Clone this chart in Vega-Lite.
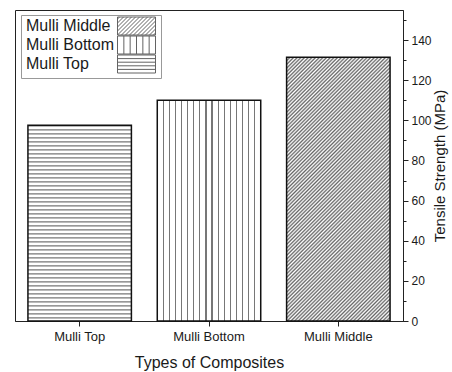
{
  "$schema": "https://vega.github.io/schema/vega-lite/v6.json",
  "autosize": "none",
  "padding": {"left": 15, "top": 10, "right": 49, "bottom": 51},
  "width": 388,
  "height": 311,
  "config": {
    "font": "Liberation Sans",
    "view": {"stroke": "#222", "strokeWidth": 1}
  },
  "data": {"values": [
    {"type": "Mulli Top", "strength": 97.5},
    {"type": "Mulli Bottom", "strength": 110},
    {"type": "Mulli Middle", "strength": 131.5}
  ]},
  "encoding": {
    "x": {"field": "type", "type": "nominal", "sort": ["Mulli Top", "Mulli Bottom", "Mulli Middle"],
      "scale": {"paddingInner": 0.2, "paddingOuter": 0.1},
      "axis": {"title": "Types of Composites", "titleFontSize": 16, "titleFontWeight": "normal", "titleColor": "#1a1a1a", "titlePadding": 11,
        "labelFontSize": 13, "labelColor": "#1a1a1a", "labelAngle": 0, "labelPadding": 4, "tickSize": 5, "tickColor": "#222", "domainColor": "#222", "bandPosition": 0.5, "grid": false}},
    "y": {"field": "strength", "type": "quantitative",
      "scale": {"domain": [0, 155], "nice": false, "zero": true},
      "axis": {"orient": "right", "title": "Tensile Strength (MPa)", "titleAngle": 270, "titleBaseline": "top", "titleFontSize": 15, "titleFontWeight": "normal", "titleColor": "#1a1a1a", "titlePadding": 1,
        "values": [0, 10, 20, 30, 40, 50, 60, 70, 80, 90, 100, 110, 120, 130, 140, 150],
        "labelExpr": "datum.value % 20 === 0 && datum.value <= 140 ? datum.label : ''",
        "tickSize": {"condition": {"test": "datum.value % 20 === 0", "value": 5}, "value": 3},
        "labelFontSize": 12, "labelColor": "#1a1a1a", "labelPadding": 3, "tickColor": "#222", "domainColor": "#222", "grid": false}}
  },
  "layer": [
    {
      "transform": [{"filter": "datum.type === 'Mulli Top'"}],
      "mark": {"type": "rule", "strokeWidth": 103.4, "color": "#777", "strokeDash": [1.2, 2.8]},
      "encoding": {"y2": {"datum": 0}}
    },
    {
      "transform": [{"filter": "datum.type === 'Mulli Bottom'"}],
      "mark": {"type": "bar", "fill": {"gradient": "linear", "x1": 0, "y1": 0, "x2": 1, "y2": 0, "stops": [
        {"offset": 0, "color": "#fff"},
        {"offset": 0.0528, "color": "#fff"}, {"offset": 0.0528, "color": "#777"}, {"offset": 0.0648, "color": "#777"}, {"offset": 0.0648, "color": "#fff"},
        {"offset": 0.1116, "color": "#fff"}, {"offset": 0.1116, "color": "#777"}, {"offset": 0.1236, "color": "#777"}, {"offset": 0.1236, "color": "#fff"},
        {"offset": 0.1705, "color": "#fff"}, {"offset": 0.1705, "color": "#777"}, {"offset": 0.1825, "color": "#777"}, {"offset": 0.1825, "color": "#fff"},
        {"offset": 0.2293, "color": "#fff"}, {"offset": 0.2293, "color": "#777"}, {"offset": 0.2413, "color": "#777"}, {"offset": 0.2413, "color": "#fff"},
        {"offset": 0.2881, "color": "#fff"}, {"offset": 0.2881, "color": "#777"}, {"offset": 0.3001, "color": "#777"}, {"offset": 0.3001, "color": "#fff"},
        {"offset": 0.3469, "color": "#fff"}, {"offset": 0.3469, "color": "#777"}, {"offset": 0.3589, "color": "#777"}, {"offset": 0.3589, "color": "#fff"},
        {"offset": 0.4058, "color": "#fff"}, {"offset": 0.4058, "color": "#777"}, {"offset": 0.4178, "color": "#777"}, {"offset": 0.4178, "color": "#fff"},
        {"offset": 0.4646, "color": "#fff"}, {"offset": 0.4646, "color": "#777"}, {"offset": 0.4766, "color": "#777"}, {"offset": 0.4766, "color": "#fff"},
        {"offset": 0.5234, "color": "#fff"}, {"offset": 0.5234, "color": "#777"}, {"offset": 0.5354, "color": "#777"}, {"offset": 0.5354, "color": "#fff"},
        {"offset": 0.5822, "color": "#fff"}, {"offset": 0.5822, "color": "#777"}, {"offset": 0.5942, "color": "#777"}, {"offset": 0.5942, "color": "#fff"},
        {"offset": 0.6411, "color": "#fff"}, {"offset": 0.6411, "color": "#777"}, {"offset": 0.6531, "color": "#777"}, {"offset": 0.6531, "color": "#fff"},
        {"offset": 0.6999, "color": "#fff"}, {"offset": 0.6999, "color": "#777"}, {"offset": 0.7119, "color": "#777"}, {"offset": 0.7119, "color": "#fff"},
        {"offset": 0.7587, "color": "#fff"}, {"offset": 0.7587, "color": "#777"}, {"offset": 0.7707, "color": "#777"}, {"offset": 0.7707, "color": "#fff"},
        {"offset": 0.8175, "color": "#fff"}, {"offset": 0.8175, "color": "#777"}, {"offset": 0.8295, "color": "#777"}, {"offset": 0.8295, "color": "#fff"},
        {"offset": 0.8764, "color": "#fff"}, {"offset": 0.8764, "color": "#777"}, {"offset": 0.8884, "color": "#777"}, {"offset": 0.8884, "color": "#fff"},
        {"offset": 0.9352, "color": "#fff"}, {"offset": 0.9352, "color": "#777"}, {"offset": 0.9472, "color": "#777"}, {"offset": 0.9472, "color": "#fff"},
        {"offset": 1, "color": "#fff"}
      ]}}
    },
    {
      "transform": [{"filter": "datum.type === 'Mulli Middle'"}],
      "mark": {"type": "bar", "fill": {"gradient": "linear", "x1": 0, "y1": 0, "x2": 0.4732, "y2": 1.2066, "stops": [
        {"offset": 0, "color": "#666"}, {"offset": 0.005, "color": "#fff"}, {"offset": 0.01, "color": "#666"}, {"offset": 0.015, "color": "#fff"},
        {"offset": 0.02, "color": "#666"}, {"offset": 0.025, "color": "#fff"}, {"offset": 0.03, "color": "#666"}, {"offset": 0.035, "color": "#fff"},
        {"offset": 0.04, "color": "#666"}, {"offset": 0.045, "color": "#fff"}, {"offset": 0.05, "color": "#666"}, {"offset": 0.055, "color": "#fff"},
        {"offset": 0.06, "color": "#666"}, {"offset": 0.065, "color": "#fff"}, {"offset": 0.07, "color": "#666"}, {"offset": 0.075, "color": "#fff"},
        {"offset": 0.08, "color": "#666"}, {"offset": 0.085, "color": "#fff"}, {"offset": 0.09, "color": "#666"}, {"offset": 0.095, "color": "#fff"},
        {"offset": 0.10, "color": "#666"}, {"offset": 0.105, "color": "#fff"}, {"offset": 0.11, "color": "#666"}, {"offset": 0.115, "color": "#fff"},
        {"offset": 0.12, "color": "#666"}, {"offset": 0.125, "color": "#fff"}, {"offset": 0.13, "color": "#666"}, {"offset": 0.135, "color": "#fff"},
        {"offset": 0.14, "color": "#666"}, {"offset": 0.145, "color": "#fff"}, {"offset": 0.15, "color": "#666"}, {"offset": 0.155, "color": "#fff"},
        {"offset": 0.16, "color": "#666"}, {"offset": 0.165, "color": "#fff"}, {"offset": 0.17, "color": "#666"}, {"offset": 0.175, "color": "#fff"},
        {"offset": 0.18, "color": "#666"}, {"offset": 0.185, "color": "#fff"}, {"offset": 0.19, "color": "#666"}, {"offset": 0.195, "color": "#fff"},
        {"offset": 0.20, "color": "#666"}, {"offset": 0.205, "color": "#fff"}, {"offset": 0.21, "color": "#666"}, {"offset": 0.215, "color": "#fff"},
        {"offset": 0.22, "color": "#666"}, {"offset": 0.225, "color": "#fff"}, {"offset": 0.23, "color": "#666"}, {"offset": 0.235, "color": "#fff"},
        {"offset": 0.24, "color": "#666"}, {"offset": 0.245, "color": "#fff"}, {"offset": 0.25, "color": "#666"}, {"offset": 0.255, "color": "#fff"},
        {"offset": 0.26, "color": "#666"}, {"offset": 0.265, "color": "#fff"}, {"offset": 0.27, "color": "#666"}, {"offset": 0.275, "color": "#fff"},
        {"offset": 0.28, "color": "#666"}, {"offset": 0.285, "color": "#fff"}, {"offset": 0.29, "color": "#666"}, {"offset": 0.295, "color": "#fff"},
        {"offset": 0.30, "color": "#666"}, {"offset": 0.305, "color": "#fff"}, {"offset": 0.31, "color": "#666"}, {"offset": 0.315, "color": "#fff"},
        {"offset": 0.32, "color": "#666"}, {"offset": 0.325, "color": "#fff"}, {"offset": 0.33, "color": "#666"}, {"offset": 0.335, "color": "#fff"},
        {"offset": 0.34, "color": "#666"}, {"offset": 0.345, "color": "#fff"}, {"offset": 0.35, "color": "#666"}, {"offset": 0.355, "color": "#fff"},
        {"offset": 0.36, "color": "#666"}, {"offset": 0.365, "color": "#fff"}, {"offset": 0.37, "color": "#666"}, {"offset": 0.375, "color": "#fff"},
        {"offset": 0.38, "color": "#666"}, {"offset": 0.385, "color": "#fff"}, {"offset": 0.39, "color": "#666"}, {"offset": 0.395, "color": "#fff"},
        {"offset": 0.40, "color": "#666"}, {"offset": 0.405, "color": "#fff"}, {"offset": 0.41, "color": "#666"}, {"offset": 0.415, "color": "#fff"},
        {"offset": 0.42, "color": "#666"}, {"offset": 0.425, "color": "#fff"}, {"offset": 0.43, "color": "#666"}, {"offset": 0.435, "color": "#fff"},
        {"offset": 0.44, "color": "#666"}, {"offset": 0.445, "color": "#fff"}, {"offset": 0.45, "color": "#666"}, {"offset": 0.455, "color": "#fff"},
        {"offset": 0.46, "color": "#666"}, {"offset": 0.465, "color": "#fff"}, {"offset": 0.47, "color": "#666"}, {"offset": 0.475, "color": "#fff"},
        {"offset": 0.48, "color": "#666"}, {"offset": 0.485, "color": "#fff"}, {"offset": 0.49, "color": "#666"}, {"offset": 0.495, "color": "#fff"},
        {"offset": 0.50, "color": "#666"}, {"offset": 0.505, "color": "#fff"}, {"offset": 0.51, "color": "#666"}, {"offset": 0.515, "color": "#fff"},
        {"offset": 0.52, "color": "#666"}, {"offset": 0.525, "color": "#fff"}, {"offset": 0.53, "color": "#666"}, {"offset": 0.535, "color": "#fff"},
        {"offset": 0.54, "color": "#666"}, {"offset": 0.545, "color": "#fff"}, {"offset": 0.55, "color": "#666"}, {"offset": 0.555, "color": "#fff"},
        {"offset": 0.56, "color": "#666"}, {"offset": 0.565, "color": "#fff"}, {"offset": 0.57, "color": "#666"}, {"offset": 0.575, "color": "#fff"},
        {"offset": 0.58, "color": "#666"}, {"offset": 0.585, "color": "#fff"}, {"offset": 0.59, "color": "#666"}, {"offset": 0.595, "color": "#fff"},
        {"offset": 0.60, "color": "#666"}, {"offset": 0.605, "color": "#fff"}, {"offset": 0.61, "color": "#666"}, {"offset": 0.615, "color": "#fff"},
        {"offset": 0.62, "color": "#666"}, {"offset": 0.625, "color": "#fff"}, {"offset": 0.63, "color": "#666"}, {"offset": 0.635, "color": "#fff"},
        {"offset": 0.64, "color": "#666"}, {"offset": 0.645, "color": "#fff"}, {"offset": 0.65, "color": "#666"}, {"offset": 0.655, "color": "#fff"},
        {"offset": 0.66, "color": "#666"}, {"offset": 0.665, "color": "#fff"}, {"offset": 0.67, "color": "#666"}, {"offset": 0.675, "color": "#fff"},
        {"offset": 0.68, "color": "#666"}, {"offset": 0.685, "color": "#fff"}, {"offset": 0.69, "color": "#666"}, {"offset": 0.695, "color": "#fff"},
        {"offset": 0.70, "color": "#666"}, {"offset": 0.705, "color": "#fff"}, {"offset": 0.71, "color": "#666"}, {"offset": 0.715, "color": "#fff"},
        {"offset": 0.72, "color": "#666"}, {"offset": 0.725, "color": "#fff"}, {"offset": 0.73, "color": "#666"}, {"offset": 0.735, "color": "#fff"},
        {"offset": 0.74, "color": "#666"}, {"offset": 0.745, "color": "#fff"}, {"offset": 0.75, "color": "#666"}, {"offset": 0.755, "color": "#fff"},
        {"offset": 0.76, "color": "#666"}, {"offset": 0.765, "color": "#fff"}, {"offset": 0.77, "color": "#666"}, {"offset": 0.775, "color": "#fff"},
        {"offset": 0.78, "color": "#666"}, {"offset": 0.785, "color": "#fff"}, {"offset": 0.79, "color": "#666"}, {"offset": 0.795, "color": "#fff"},
        {"offset": 0.80, "color": "#666"}, {"offset": 0.805, "color": "#fff"}, {"offset": 0.81, "color": "#666"}, {"offset": 0.815, "color": "#fff"},
        {"offset": 0.82, "color": "#666"}, {"offset": 0.825, "color": "#fff"}, {"offset": 0.83, "color": "#666"}, {"offset": 0.835, "color": "#fff"},
        {"offset": 0.84, "color": "#666"}, {"offset": 0.845, "color": "#fff"}, {"offset": 0.85, "color": "#666"}, {"offset": 0.855, "color": "#fff"},
        {"offset": 0.86, "color": "#666"}, {"offset": 0.865, "color": "#fff"}, {"offset": 0.87, "color": "#666"}, {"offset": 0.875, "color": "#fff"},
        {"offset": 0.88, "color": "#666"}, {"offset": 0.885, "color": "#fff"}, {"offset": 0.89, "color": "#666"}, {"offset": 0.895, "color": "#fff"},
        {"offset": 0.90, "color": "#666"}, {"offset": 0.905, "color": "#fff"}, {"offset": 0.91, "color": "#666"}, {"offset": 0.915, "color": "#fff"},
        {"offset": 0.92, "color": "#666"}, {"offset": 0.925, "color": "#fff"}, {"offset": 0.93, "color": "#666"}, {"offset": 0.935, "color": "#fff"},
        {"offset": 0.94, "color": "#666"}, {"offset": 0.945, "color": "#fff"}, {"offset": 0.95, "color": "#666"}, {"offset": 0.955, "color": "#fff"},
        {"offset": 0.96, "color": "#666"}, {"offset": 0.965, "color": "#fff"}, {"offset": 0.97, "color": "#666"}, {"offset": 0.975, "color": "#fff"},
        {"offset": 0.98, "color": "#666"}, {"offset": 0.985, "color": "#fff"}, {"offset": 0.99, "color": "#666"}, {"offset": 0.995, "color": "#fff"},
        {"offset": 1, "color": "#666"}
      ]}}
    },
    {
      "mark": {"type": "bar", "filled": false, "strokeWidth": 1.5, "stroke": "#111"}
    },
    {
      "mark": {"type": "point", "filled": false, "size": 0, "stroke": "#222", "strokeWidth": 1},
      "encoding": {
        "shape": {"field": "type", "type": "nominal",
          "scale": {"domain": ["Mulli Middle", "Mulli Bottom", "Mulli Top"],
            "range": [
              "M17.1,-1.8H24.7V1.8H17.1Z M17.1,-1.4L17.5,-1.8 M17.1,-0.6L18.3,-1.8 M17.1,0.2L19.1,-1.8 M17.1,1L19.9,-1.8 M17.1,1.8L20.7,-1.8 M17.9,1.8L21.5,-1.8 M18.7,1.8L22.3,-1.8 M19.5,1.8L23.1,-1.8 M20.3,1.8L23.9,-1.8 M21.1,1.8L24.7,-1.8 M21.9,1.8L24.7,-1 M22.7,1.8L24.7,-0.2 M23.5,1.8L24.7,0.6 M24.3,1.8L24.7,1.4",
              "M17.1,-1.8H24.7V1.8H17.1Z M18.37,-1.8V1.8 M19.63,-1.8V1.8 M20.9,-1.8V1.8 M22.17,-1.8V1.8 M23.43,-1.8V1.8",
              "M17.1,-1.8H24.7V1.8H17.1Z M17.1,-1.08H24.7 M17.1,-0.36H24.7 M17.1,0.36H24.7 M17.1,1.08H24.7"
            ]},
          "legend": {"title": null, "orient": "none", "legendX": 6, "legendY": 5, "padding": 3,
            "strokeColor": "#999", "fillColor": "#fff", "labelFontSize": 16, "labelColor": "#1a1a1a", "labelOffset": -14, "symbolSize": 100, "rowPadding": -3,
            "symbolStrokeWidth": 1, "symbolStrokeColor": "#222", "symbolFillColor": "#fff"
          }
        }
      }
    }
  ]
}
